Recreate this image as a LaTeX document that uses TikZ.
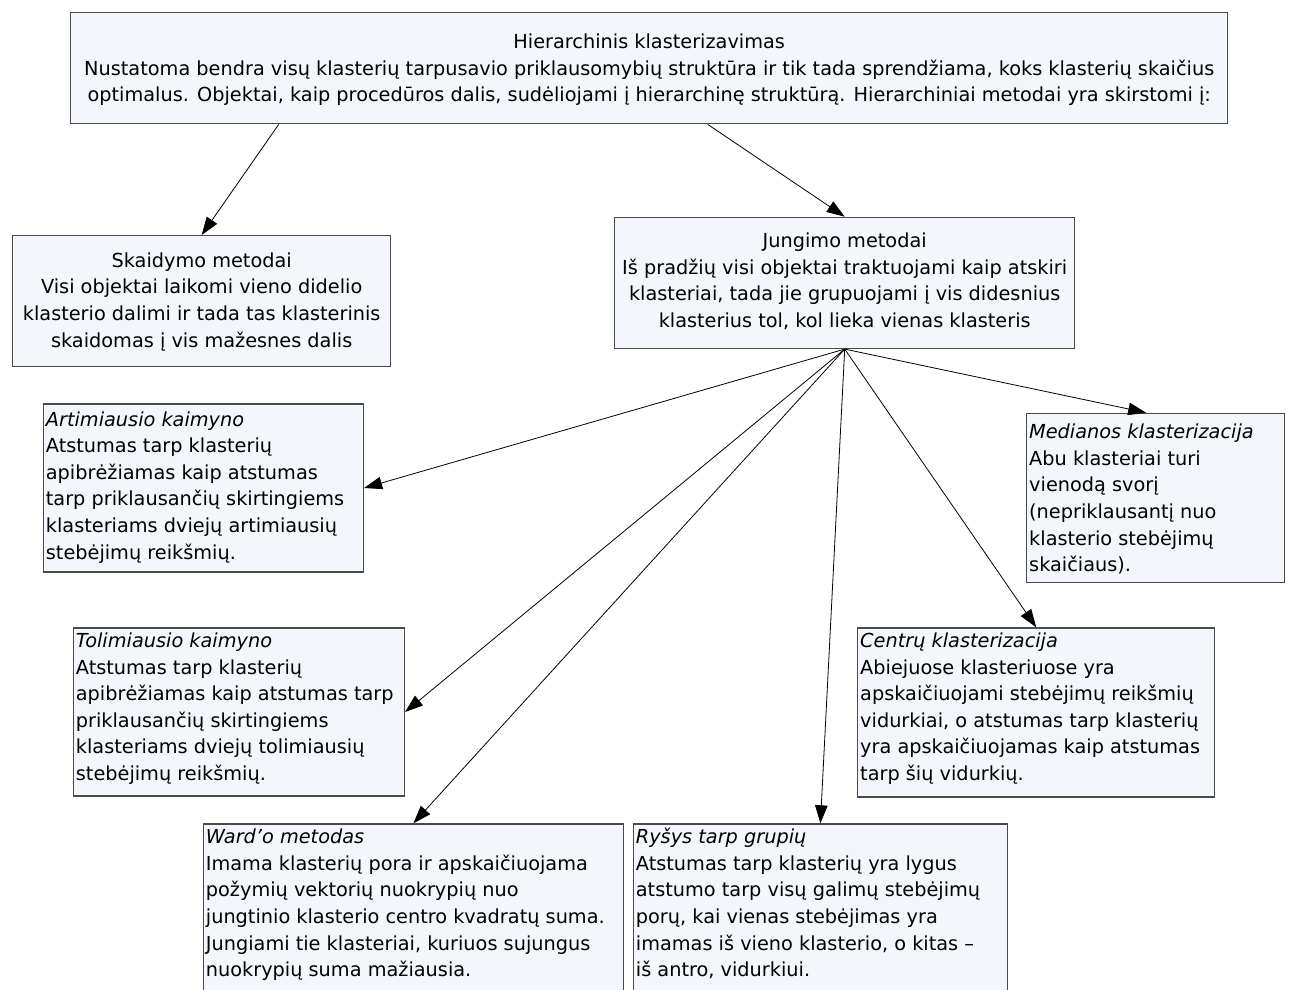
\documentclass[tikz,border=0pt]{standalone}
\usepackage{fontspec}
\setmainfont{DejaVu Sans}
\usetikzlibrary{arrows.meta}
\definecolor{boxfill}{HTML}{F3F6FB}
\definecolor{boxline}{HTML}{4A4A4A}
% #1 width, #2 height, #3 top padding, #4 alignment (l or c), #5 lines
\newcommand{\boxbody}[5]{%
  \begin{minipage}[c][#2][t]{#1}\vspace*{#3}%
    \noindent\makebox[\linewidth][#4]{\begin{tabular}[t]{@{}#4@{}}#5\end{tabular}}%
  \end{minipage}}
\tikzset{
  panel/.style={draw=boxline, fill=boxfill, line width=1.4pt,
    inner xsep=2.5pt, inner ysep=0pt, anchor=north west},
  link/.style={draw=black, line width=0.8pt, -{Triangle[length=18pt,width=12.5pt]}}
}
\begin{document}
\begin{tikzpicture}[x=1pt, y=-1pt, font=\fontsize{19.3}{26.6}\selectfont]
\useasboundingbox (0,0) rectangle (1290,989);

\node[panel] (top) at (70,11.5) {\boxbody{1152pt}{111.5pt}{17.9pt}{c}{\fontsize{19.3}{25.5}\selectfont
  Hierarchinis klasterizavimas\\
  Nustatoma bendra visų klasterių tarpusavio priklausomybių struktūra ir tik tada sprendžiama, koks klasterių skaičius\\
  optimalus. Objektai, kaip procedūros dalis, sudėliojami į hierarchinę struktūrą. Hierarchiniai metodai yra skirstomi į:}};

\node[panel] (skaid) at (12,235) {\boxbody{373pt}{131pt}{13pt}{c}{%
  Skaidymo metodai\\
  Visi objektai laikomi vieno didelio\\
  klasterio dalimi ir tada tas klasterinis\\
  skaidomas į vis mažesnes dalis}};

\node[panel] (jung) at (614,216.7) {\boxbody{455pt}{131pt}{11.4pt}{c}{%
  Jungimo metodai\\
  Iš pradžių visi objektai traktuojami kaip atskiri\\
  klasteriai, tada jie grupuojami į vis didesnius\\
  klasterius tol, kol lieka vienas klasteris}};

\node[panel] (art) at (42.7,403.3) {\boxbody{315pt}{168pt}{3.4pt}{l}{%
  \textit{Artimiausio kaimyno}\\
  Atstumas tarp klasterių\\
  apibrėžiamas kaip atstumas\\
  tarp priklausančių skirtingiems\\
  klasteriams dviejų artimiausių\\
  stebėjimų reikšmių.}};

\node[panel] (med) at (1026,412.7) {\boxbody{253pt}{169pt}{6.7pt}{l}{%
  \textit{Medianos klasterizacija}\\
  Abu klasteriai turi\\
  vienodą svorį\\
  (nepriklausantį nuo\\
  klasterio stebėjimų\\
  skaičiaus).}};

\node[panel] (tol) at (72.7,627.3) {\boxbody{326pt}{168pt}{0.8pt}{l}{%
  \textit{Tolimiausio kaimyno}\\
  Atstumas tarp klasterių\\
  apibrėžiamas kaip atstumas tarp\\
  priklausančių skirtingiems\\
  klasteriams dviejų tolimiausių\\
  stebėjimų reikšmių.}};

\node[panel] (cen) at (857,627.3) {\boxbody{352pt}{169pt}{0.8pt}{l}{%
  \textit{Centrų klasterizacija}\\
  Abiejuose klasteriuose yra\\
  apskaičiuojami stebėjimų reikšmių\\
  vidurkiai, o atstumas tarp klasterių\\
  yra apskaičiuojamas kaip atstumas\\
  tarp šių vidurkių.}};

\node[panel] (ward) at (202.7,823.3) {\boxbody{415pt}{185pt}{1.1pt}{l}{%
  \textit{Ward’o metodas}\\
  Imama klasterių pora ir apskaičiuojama\\
  požymių vektorių nuokrypių nuo\\
  jungtinio klasterio centro kvadratų suma.\\
  Jungiami tie klasteriai, kuriuos sujungus\\
  nuokrypių suma mažiausia.}};

\node[panel] (rys) at (632.7,823.3) {\boxbody{369pt}{185pt}{1.1pt}{l}{%
  \textit{Ryšys tarp grupių}\\
  Atstumas tarp klasterių yra lygus\\
  atstumo tarp visų galimų stebėjimų\\
  porų, kai vienas stebėjimas yra\\
  imamas iš vieno klasterio, o kitas –\\
  iš antro, vidurkiui.}};

% top level split
\draw[link] ([xshift=-370.5pt]top.south) -- (skaid.north);
\draw[link] ([xshift=58.5pt]top.south) -- (jung.north);

% agglomerative methods fan out from one point
\coordinate (hub) at (jung.south);
\draw[link] (hub) -- (art.east);
\draw[link] (hub) -- (tol.east);
\draw[link] (hub) -- (ward.north);
\draw[link] (hub) -- (rys.north);
\draw[link] (hub) -- (cen.north);
\draw[link] (hub) -- ([xshift=-9.5pt]med.north);
\end{tikzpicture}
\end{document}
